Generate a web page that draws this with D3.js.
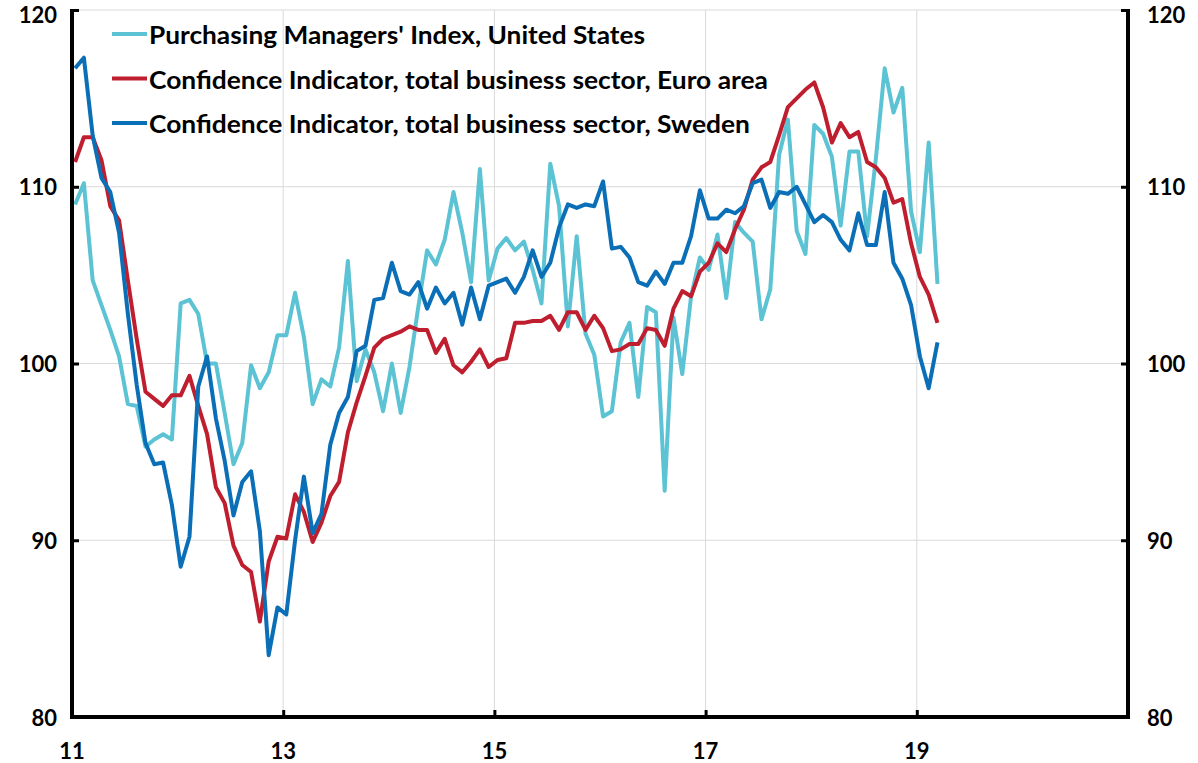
<!DOCTYPE html>
<html><head><meta charset="utf-8">
<script src="https://cdn.jsdelivr.net/npm/d3@7"></script>
<style>
html,body{margin:0;padding:0;background:#fff;}
svg{display:block;}
text{font-family:Lato,"Open Sans",sans-serif;font-weight:700;fill:#000;}
</style></head>
<body>
<svg id="chart" width="1198" height="763"></svg>
<script>
// Monthly observations, starting January 2011
const startYear = 2011;
const seriesNames = [
  "Purchasing Managers' Index, United States",
  "Confidence Indicator, total business sector, Euro area",
  "Confidence Indicator, total business sector, Sweden"
];
const pmiUS = [109.0,110.2,104.7,103.3,101.9,100.4,97.7,97.6,95.3,95.7,96.0,95.7,
  103.4,103.6,102.8,100.0,100.0,97.2,94.3,95.5,99.9,98.6,99.5,101.6,
  101.6,104.0,101.5,97.7,99.1,98.7,100.9,105.8,99.0,100.8,99.5,97.3,
  100.0,97.2,99.8,103.2,106.4,105.6,107.0,109.7,107.4,104.6,111.0,104.7,
  106.5,107.1,106.4,106.9,105.3,103.4,111.3,108.9,102.1,107.2,101.7,100.5,
  97.0,97.3,101.2,102.3,98.1,103.2,102.9,92.8,102.6,99.4,103.8,106.0,
  105.3,107.3,103.7,108.0,107.4,106.9,102.5,104.2,111.8,113.8,107.5,106.2,
  113.5,113.0,111.7,107.8,112.0,112.0,107.2,111.6,116.7,114.2,115.6,108.6,
  106.3,112.5,104.5];
const euroArea = [111.4,112.8,112.8,111.5,108.9,108.1,104.7,101.4,98.4,98.0,97.6,98.2,
  98.2,99.3,97.6,96.0,93.0,92.1,89.7,88.6,88.2,85.4,88.8,90.2,
  90.1,92.6,91.6,89.9,91.0,92.5,93.3,96.1,97.8,99.3,100.9,101.4,
  101.6,101.8,102.1,101.9,101.9,100.6,101.4,99.9,99.5,100.1,100.8,99.8,
  100.2,100.3,102.3,102.3,102.4,102.4,102.7,101.9,102.9,102.9,101.9,102.7,
  102.0,100.7,100.8,101.1,101.1,102.0,101.9,101.0,103.1,104.1,103.8,105.2,
  105.7,106.8,106.3,107.6,108.7,110.4,111.1,111.4,112.9,114.5,115.0,115.5,
  115.9,114.5,112.5,113.6,112.8,113.1,111.4,111.1,110.5,109.1,109.3,106.8,
  104.9,103.9,102.3];
const sweden = [116.7,117.3,112.9,110.5,109.7,107.4,102.8,98.8,95.5,94.3,94.4,92.0,
  88.5,90.2,98.7,100.4,96.9,94.5,91.4,93.3,93.9,90.5,83.5,86.2,
  85.8,90.0,93.6,90.4,91.5,95.4,97.2,98.1,100.7,101.0,103.6,103.7,
  105.7,104.1,103.9,104.6,103.1,104.3,103.4,104.0,102.2,104.3,102.5,104.4,
  104.6,104.8,104.0,104.9,106.4,104.9,105.7,107.7,109.0,108.8,109.0,108.9,
  110.3,106.5,106.6,106.0,104.6,104.4,105.2,104.5,105.7,105.7,107.2,109.8,
  108.2,108.2,108.7,108.5,108.9,110.2,110.4,108.8,109.7,109.6,110.0,109.0,
  108.0,108.4,108.0,107.0,106.4,108.5,106.7,106.7,109.7,105.7,104.8,103.3,
  100.4,98.6,101.2];
const xTickValues = [2011,2013,2015,2017,2019];
const xTickLabels = ["11","13","15","17","19"];
const yTickValues = [80,90,100,110,120];
const colors = ["#5bc3d3","#bf1e2e","#0a6fb6"];

const svg = d3.select("#chart");
const L = 72, R = 1128, T = 10, B = 717;
const x = d3.scaleLinear().domain([2011, 2021]).range([L, R]);
const y = d3.scaleLinear().domain([80, 120]).range([B, T]);
const monthPos = k => startYear + (k + 0.35) / 12;

// gridlines
const grid = svg.append("g");
grid.selectAll("line.h").data(yTickValues.filter(v => v > 80)).join("line")
  .attr("x1", L).attr("x2", R).attr("y1", d => y(d)).attr("y2", d => y(d))
  .attr("stroke", "#d9d9d9").attr("stroke-width", 1);
grid.selectAll("line.v").data(xTickValues.slice(1)).join("line")
  .attr("x1", d => x(d)).attr("x2", d => x(d)).attr("y1", T).attr("y2", B)
  .attr("stroke", "#d9d9d9").attr("stroke-width", 1);

// lines
const line = d3.line().x((d, i) => x(monthPos(i))).y(d => y(d));
const allSeries = [pmiUS, euroArea, sweden];
svg.append("g").selectAll("path").data(allSeries).join("path")
  .attr("d", d => line(d)).attr("fill", "none")
  .attr("stroke", (d, i) => colors[i]).attr("stroke-width", 4)
  .attr("stroke-linejoin", "round");

// axes
const axL = svg.append("g").attr("transform", `translate(${L},0)`)
  .call(d3.axisRight(y).tickValues(yTickValues).tickSize(7).tickFormat(""));
const axR = svg.append("g").attr("transform", `translate(${R},0)`)
  .call(d3.axisLeft(y).tickValues(yTickValues).tickSize(7).tickFormat(""));
const axB = svg.append("g").attr("transform", `translate(0,${B})`)
  .call(d3.axisTop(x).tickValues(xTickValues.slice(1)).tickSize(7).tickFormat(""));
[axL, axR, axB].forEach(a => {
  a.select(".domain").remove();
  a.selectAll(".tick line").attr("stroke", "#000").attr("stroke-width", 3);
});
svg.append("line").attr("x1", L).attr("x2", L).attr("y1", T - 1).attr("y2", B + 2)
  .attr("stroke", "#000").attr("stroke-width", 4);
svg.append("line").attr("x1", R).attr("x2", R).attr("y1", T - 1).attr("y2", B + 2)
  .attr("stroke", "#000").attr("stroke-width", 4);
svg.append("line").attr("x1", L - 2).attr("x2", R + 2).attr("y1", B).attr("y2", B)
  .attr("stroke", "#000").attr("stroke-width", 4);

// tick labels (top label kept inside the picture)
const labelY = d => Math.max(y(d), 14);
svg.append("g").selectAll("text").data(yTickValues).join("text")
  .attr("x", 57).attr("y", labelY).attr("text-anchor", "end")
  .attr("dominant-baseline", "central").attr("font-size", 22).text(d => d);
svg.append("g").selectAll("text").data(yTickValues).join("text")
  .attr("x", 1147).attr("y", labelY).attr("text-anchor", "start")
  .attr("dominant-baseline", "central").attr("font-size", 22).text(d => d);
svg.append("g").selectAll("text").data(xTickValues).join("text")
  .attr("x", d => x(d)).attr("y", 750).attr("text-anchor", "middle")
  .attr("dominant-baseline", "central").attr("font-size", 22)
  .text((d, i) => xTickLabels[i]);

// legend
const legendWidths = [496, 619, 601];
const lg = svg.append("g");
seriesNames.forEach((name, i) => {
  const yy = 34 + i * 44.5;
  lg.append("line").attr("x1", 112).attr("x2", 147).attr("y1", yy).attr("y2", yy)
    .attr("stroke", colors[i]).attr("stroke-width", 4);
  lg.append("text").attr("x", 149).attr("y", yy).attr("dominant-baseline", "central")
    .attr("font-size", 25).attr("textLength", legendWidths[i])
    .attr("lengthAdjust", "spacingAndGlyphs").text(name);
});
</script>
</body></html>
